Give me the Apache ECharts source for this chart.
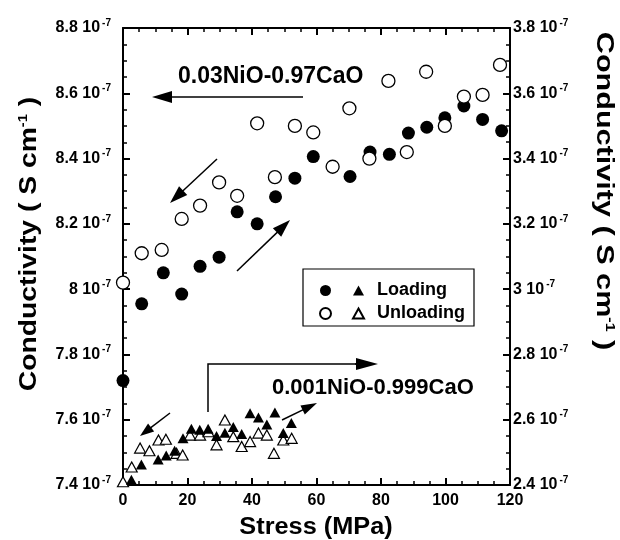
<!DOCTYPE html>
<html>
<head>
<meta charset="utf-8">
<script src="https://cdn.jsdelivr.net/npm/echarts@6/dist/echarts.min.js"></script>
<style>html,body{margin:0;padding:0;background:#fff}#c{width:620px;height:540px}</style>
</head>
<body>
<div id="c"></div>
<script>
// ---- data (conductivity in units of 1e-7 S/cm) ----
const circLoadX = [0, 5.8, 12.5, 18.2, 23.9, 29.8, 35.4, 41.6, 47.3, 53.3, 59.0, 70.4, 76.6, 82.6, 88.5, 94.2, 99.8, 105.7, 111.5, 117.4];
const circLoadY = [7.72, 7.955, 8.05, 7.985, 8.07, 8.098, 8.237, 8.20, 8.283, 8.34, 8.406, 8.345, 8.42, 8.413, 8.478, 8.496, 8.525, 8.561, 8.52, 8.485];
const circUnX = [0, 5.8, 12.0, 18.2, 23.9, 29.8, 35.4, 41.6, 47.1, 53.3, 59.0, 65.0, 70.2, 76.4, 82.3, 88.0, 94.0, 99.8, 105.7, 111.5, 116.9];
const circUnY = [8.02, 8.11, 8.12, 8.215, 8.256, 8.327, 8.286, 8.508, 8.343, 8.50, 8.48, 8.375, 8.554, 8.40, 8.638, 8.42, 8.666, 8.50, 8.59, 8.595, 8.687];
const triLoadX = [2.6, 5.7, 10.9, 13.4, 16.0, 18.6, 21.2, 23.8, 26.4, 29.0, 31.6, 34.2, 36.8, 39.4, 42.0, 44.6, 47.1, 49.7, 52.2];
const triLoadY = [2.416, 2.463, 2.478, 2.49, 2.505, 2.543, 2.572, 2.569, 2.572, 2.55, 2.56, 2.578, 2.556, 2.62, 2.607, 2.585, 2.622, 2.559, 2.59];
const triUnX = [0, 2.7, 5.3, 8.2, 11.0, 13.3, 16.6, 18.5, 20.8, 23.9, 26.5, 29.0, 31.6, 34.2, 36.8, 39.4, 42.0, 44.6, 46.8, 49.7, 52.3];
const triUnY = [2.41, 2.455, 2.513, 2.505, 2.538, 2.54, 2.497, 2.492, 2.553, 2.553, 2.563, 2.523, 2.599, 2.548, 2.518, 2.533, 2.559, 2.553, 2.497, 2.538, 2.543];

const xTicks = [0, 20, 40, 60, 80, 100, 120];
const leftTicks = [7.4, 7.6, 7.8, 8.0, 8.2, 8.4, 8.6, 8.8];
const rightTicks = [2.4, 2.6, 2.8, 3.0, 3.2, 3.4, 3.6, 3.8];
const tickExponent = '-7';
const axisTitle = 'Conductivity ( S cm';
const axisTitleSup = '-1';
const xTitle = 'Stress (MPa)';
const label1 = '0.03NiO-0.97CaO';
const label2 = '0.001NiO-0.999CaO';
const legendNames = ['Loading', 'Unloading'];

const FONT = "'Liberation Sans', Arial, sans-serif";
const pair = (xs, ys) => xs.map((x, i) => [x, ys[i]]);

function fmtTick(v) {
  let s = (Math.round(v * 10) / 10).toFixed(1);
  if (s.endsWith('.0')) s = s.slice(0, -2);
  return '{v|' + s + ' 10}{s|' + tickExponent + '}';
}
const tickRich = {
  v: {fontSize: 16, fontWeight: 'bold', fontFamily: FONT, color: '#000'},
  s: {fontSize: 10, fontWeight: 'bold', fontFamily: FONT, color: '#000', padding: [0, 0, 10, 2]}
};

const lineBlack = {color: '#000', width: 2};
function yAxisCfg(ticks, pos, margin) {
  return {
    type: 'value', position: pos, min: ticks[0], max: ticks[ticks.length - 1], interval: 0.2,
    axisLine: {show: true, onZero: false, lineStyle: lineBlack},
    axisTick: {show: true, inside: true, length: 7, lineStyle: lineBlack},
    minorTick: {show: true, splitNumber: 4, length: 4, lineStyle: {color: '#000', width: 1.5}},
    splitLine: {show: false},
    axisLabel: {formatter: fmtTick, rich: tickRich, margin: margin}
  };
}
function xAxisCfg(pos, showLabel) {
  return {
    type: 'value', position: pos, min: xTicks[0], max: xTicks[xTicks.length - 1], interval: 20,
    axisLine: {show: true, onZero: false, lineStyle: lineBlack},
    axisTick: {show: true, inside: true, length: 7, lineStyle: lineBlack},
    minorTick: {show: true, splitNumber: 4, length: 4, lineStyle: {color: '#000', width: 1.5}},
    splitLine: {show: false},
    axisLabel: {show: showLabel, fontSize: 16, fontWeight: 'bold', fontFamily: FONT, color: '#000', margin: 8}
  };
}

function arrow(x1, y1, x2, y2, hl, hw, w) {
  const dx = x2 - x1, dy = y2 - y1, L = Math.sqrt(dx * dx + dy * dy);
  const ux = dx / L, uy = dy / L, px = -uy, py = ux;
  const bx = x2 - ux * hl, by = y2 - uy * hl;
  return [
    {type: 'line', shape: {x1: x1, y1: y1, x2: bx + ux * 2, y2: by + uy * 2}, style: {stroke: '#000', lineWidth: w || 1.5}, z: 10},
    {type: 'polygon', shape: {points: [[x2, y2], [bx + px * hw, by + py * hw], [bx - px * hw, by - py * hw]]}, style: {fill: '#000'}, z: 10}
  ];
}

const titleRich = {
  t: {fontSize: 23, fontWeight: 'bold', fontFamily: FONT, fill: '#000'},
  s: {fontSize: 12, fontWeight: 'bold', fontFamily: FONT, fill: '#000', padding: [0, 0, 12, 0]}
};

const graphics = [].concat(
  [
    {type: 'text', x: 30, y: 244, rotation: Math.PI / 2, scaleX: 1.23, z: 10,
     style: {text: '{t|' + axisTitle + '}{s|' + axisTitleSup + '}{t| )}', rich: titleRich, align: 'center', verticalAlign: 'middle'}},
    {type: 'text', x: 603, y: 191, rotation: -Math.PI / 2, scaleX: 1.33, z: 10,
     style: {text: '{t|' + axisTitle + '}{s|' + axisTitleSup + '}{t| )}', rich: titleRich, align: 'center', verticalAlign: 'middle'}},
    {type: 'text', x: 316, y: 528, scaleX: 1.1, z: 10,
     style: {text: xTitle, font: 'bold 23px ' + FONT, fill: '#000', align: 'center', verticalAlign: 'middle'}},
    {type: 'text', x: 178, y: 77, z: 10,
     style: {text: label1, font: 'bold 23px ' + FONT, fill: '#000', align: 'left', verticalAlign: 'middle'}},
    {type: 'text', x: 272, y: 388, z: 10,
     style: {text: label2, font: 'bold 22px ' + FONT, fill: '#000', align: 'left', verticalAlign: 'middle'}},
    {type: 'rect', shape: {x: 303, y: 269, width: 171, height: 57}, style: {fill: 'none', stroke: '#000', lineWidth: 1.2}, z: 1},
    {type: 'polyline', shape: {points: [[208, 412], [208, 364], [360, 364]]}, style: {stroke: '#000', lineWidth: 1.5, fill: 'none'}, z: 10}
  ],
  arrow(303, 97, 152, 97, 20, 6),
  arrow(217, 159, 170, 203, 18, 6),
  arrow(237, 271, 290, 220, 18, 6),
  arrow(355, 364, 378, 364, 22, 6),
  arrow(170, 413, 140, 436, 14, 5),
  arrow(282, 420, 317, 403, 16, 5)
);

const chart = echarts.init(document.getElementById('c'), null, {renderer: 'canvas'});
chart.setOption({
  animation: false,
  backgroundColor: '#fff',
  grid: {left: 123, right: 110, top: 28, bottom: 55, containLabel: false},
  xAxis: [xAxisCfg('bottom', true), xAxisCfg('top', false)],
  yAxis: [yAxisCfg(leftTicks, 'left', 12), yAxisCfg(rightTicks, 'right', 3)],
  legend: [
    {orient: 'vertical', left: 314, top: 276, itemWidth: 11, itemHeight: 11, itemGap: 4,
     data: ['c-' + legendNames[0], 'c-' + legendNames[1]], formatter: () => ' ',
     textStyle: {fontSize: 18, lineHeight: 19, fontFamily: FONT}, selectedMode: false},
    {orient: 'vertical', left: 347, top: 276, itemWidth: 11, itemHeight: 10, itemGap: 4,
     data: legendNames, textStyle: {fontSize: 18, lineHeight: 19, fontWeight: 'bold', fontFamily: FONT, color: '#000', padding: [0, 0, 0, 8]}, selectedMode: false}
  ],
  graphic: graphics,
  series: [
    {name: 'c-' + legendNames[0], type: 'scatter', xAxisIndex: 0, yAxisIndex: 0, clip: false, symbol: 'circle', symbolSize: 13,
     itemStyle: {color: '#000', opacity: 1}, data: pair(circLoadX, circLoadY)},
    {name: 'c-' + legendNames[1], type: 'scatter', xAxisIndex: 0, yAxisIndex: 0, clip: false, symbol: 'circle', symbolSize: 13,
     itemStyle: {color: '#fff', borderColor: '#000', borderWidth: 1.3, opacity: 1}, data: pair(circUnX, circUnY)},
    {name: legendNames[1], type: 'scatter', xAxisIndex: 0, yAxisIndex: 1, clip: false, symbol: 'triangle', symbolSize: [11, 10],
     itemStyle: {color: '#fff', borderColor: '#000', borderWidth: 1.2, opacity: 1}, data: pair(triUnX, triUnY)},
    {name: legendNames[0], type: 'scatter', xAxisIndex: 0, yAxisIndex: 1, clip: false, symbol: 'triangle', symbolSize: [11, 10],
     itemStyle: {color: '#000', opacity: 1}, data: pair(triLoadX, triLoadY)}
  ]
});
</script>
</body>
</html>
